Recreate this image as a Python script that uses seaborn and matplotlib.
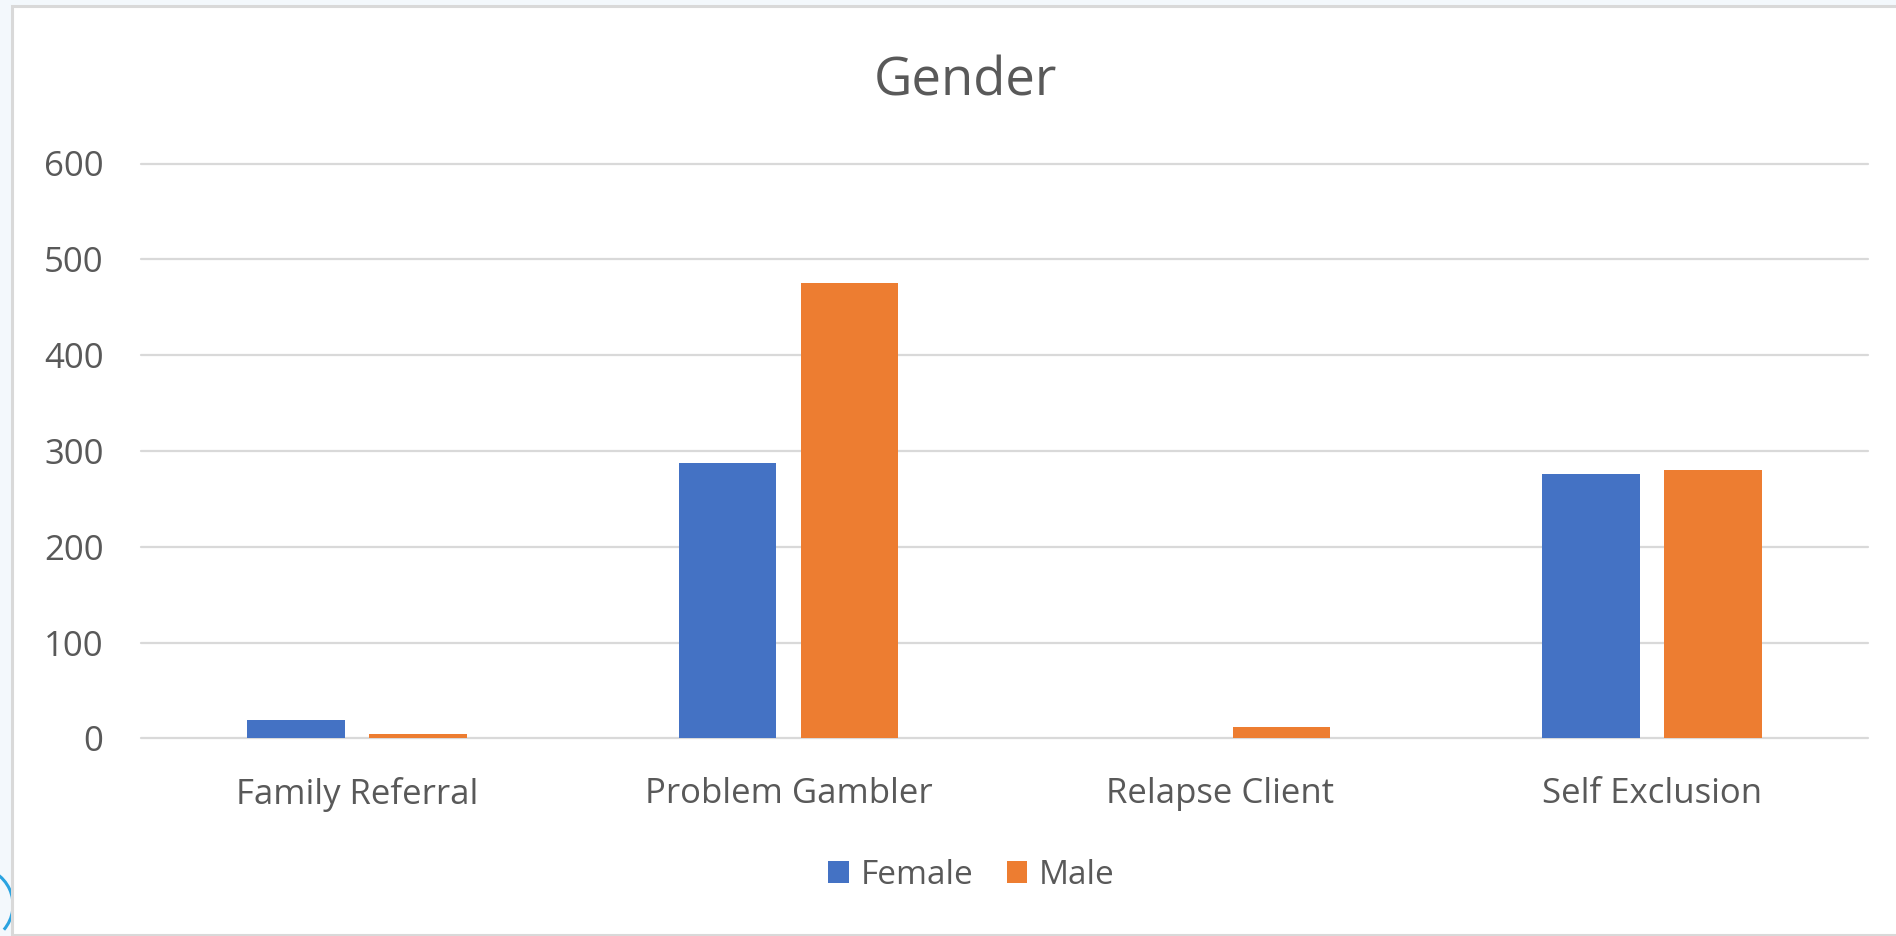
import matplotlib
matplotlib.use("Agg")
import matplotlib.pyplot as plt
from matplotlib.patches import Rectangle, Arc
import pandas as pd
import seaborn as sns

# Referral counts by client type and gender
categories = ["Family Referral", "Problem Gambler", "Relapse Client", "Self Exclusion"]
female = [19, 287, 0, 276]
male = [4, 475, 12, 280]
series_names = ["Female", "Male"]
y_ticks = [0, 100, 200, 300, 400, 500, 600]

colors = {"Female": "#4472C4", "Male": "#ED7D31"}
text_color = "#595959"
grid_color = "#D9D9D9"

sns.set_theme(style="white")
plt.rcParams["font.family"] = ["Open Sans", "DejaVu Sans"]

df = pd.DataFrame({
    "Category": categories * 2,
    "Gender": [series_names[0]] * len(categories) + [series_names[1]] * len(categories),
    "Count": female + male,
})

W, H = 1896, 936
fig = plt.figure(figsize=(W / 100, H / 100), dpi=100)
fig.patch.set_facecolor("#F3F8FC")

# White chart card with a light grey border
card = Rectangle((12 / W, 1 - 935 / H), 1.0, (935 - 6) / H, transform=fig.transFigure,
                 facecolor="white", edgecolor=grid_color, linewidth=2.2, zorder=-2)
fig.patches.append(card)

# Small decorative arc peeking in at the lower-left edge
arc = Arc((-25 / W, 1 - 905 / H), 76 / W, 76 / H, theta1=-60, theta2=90,
          transform=fig.transFigure, color="#2AA3E0", linewidth=2.2, zorder=-3)
fig.patches.append(arc)

ax = fig.add_axes([141 / W, 1 - 738.3 / H, (1868 - 141) / W, (738.3 - 163.5) / H])
ax.set_facecolor("none")
ax.set_zorder(1)

sns.barplot(data=df, x="Category", y="Count", hue="Gender", order=categories,
            hue_order=series_names, palette=colors, saturation=1, width=0.565,
            gap=0.2, linewidth=0, errorbar=None, ax=ax, legend=False)

ax.set_xlim(-0.5, len(categories) - 0.5)
ax.set_ylim(0, 600)
ax.set_yticks(y_ticks)
ax.set_axisbelow(True)
ax.yaxis.grid(True, color=grid_color, linewidth=1.6)
ax.xaxis.grid(False)
for gl in ax.get_ygridlines():
    gl.set_clip_on(False)
for s in ax.spines.values():
    s.set_visible(False)

ax.set_xlabel("")
ax.set_ylabel("")
ax.tick_params(axis="both", length=0, labelsize=25, labelcolor=text_color)
ax.tick_params(axis="y", pad=27)
ax.tick_params(axis="x", pad=28)

fig.text(965 / W, 1 - 95 / H, "Gender", ha="center", va="baseline",
         fontsize=38, color=text_color)

handles = [Rectangle((0, 0), 1, 1, facecolor=colors[n], edgecolor="none") for n in series_names]
leg = fig.legend(handles, series_names, loc="center",
                 bbox_to_anchor=(971.5 / W, 1 - 875 / H), ncol=2, frameon=False,
                 fontsize=24, handlelength=0.62, handleheight=0.62,
                 handletextpad=0.35, columnspacing=1.0, borderpad=0)
for t in leg.get_texts():
    t.set_color(text_color)

fig.savefig("out.png", dpi=100, facecolor=fig.get_facecolor())
